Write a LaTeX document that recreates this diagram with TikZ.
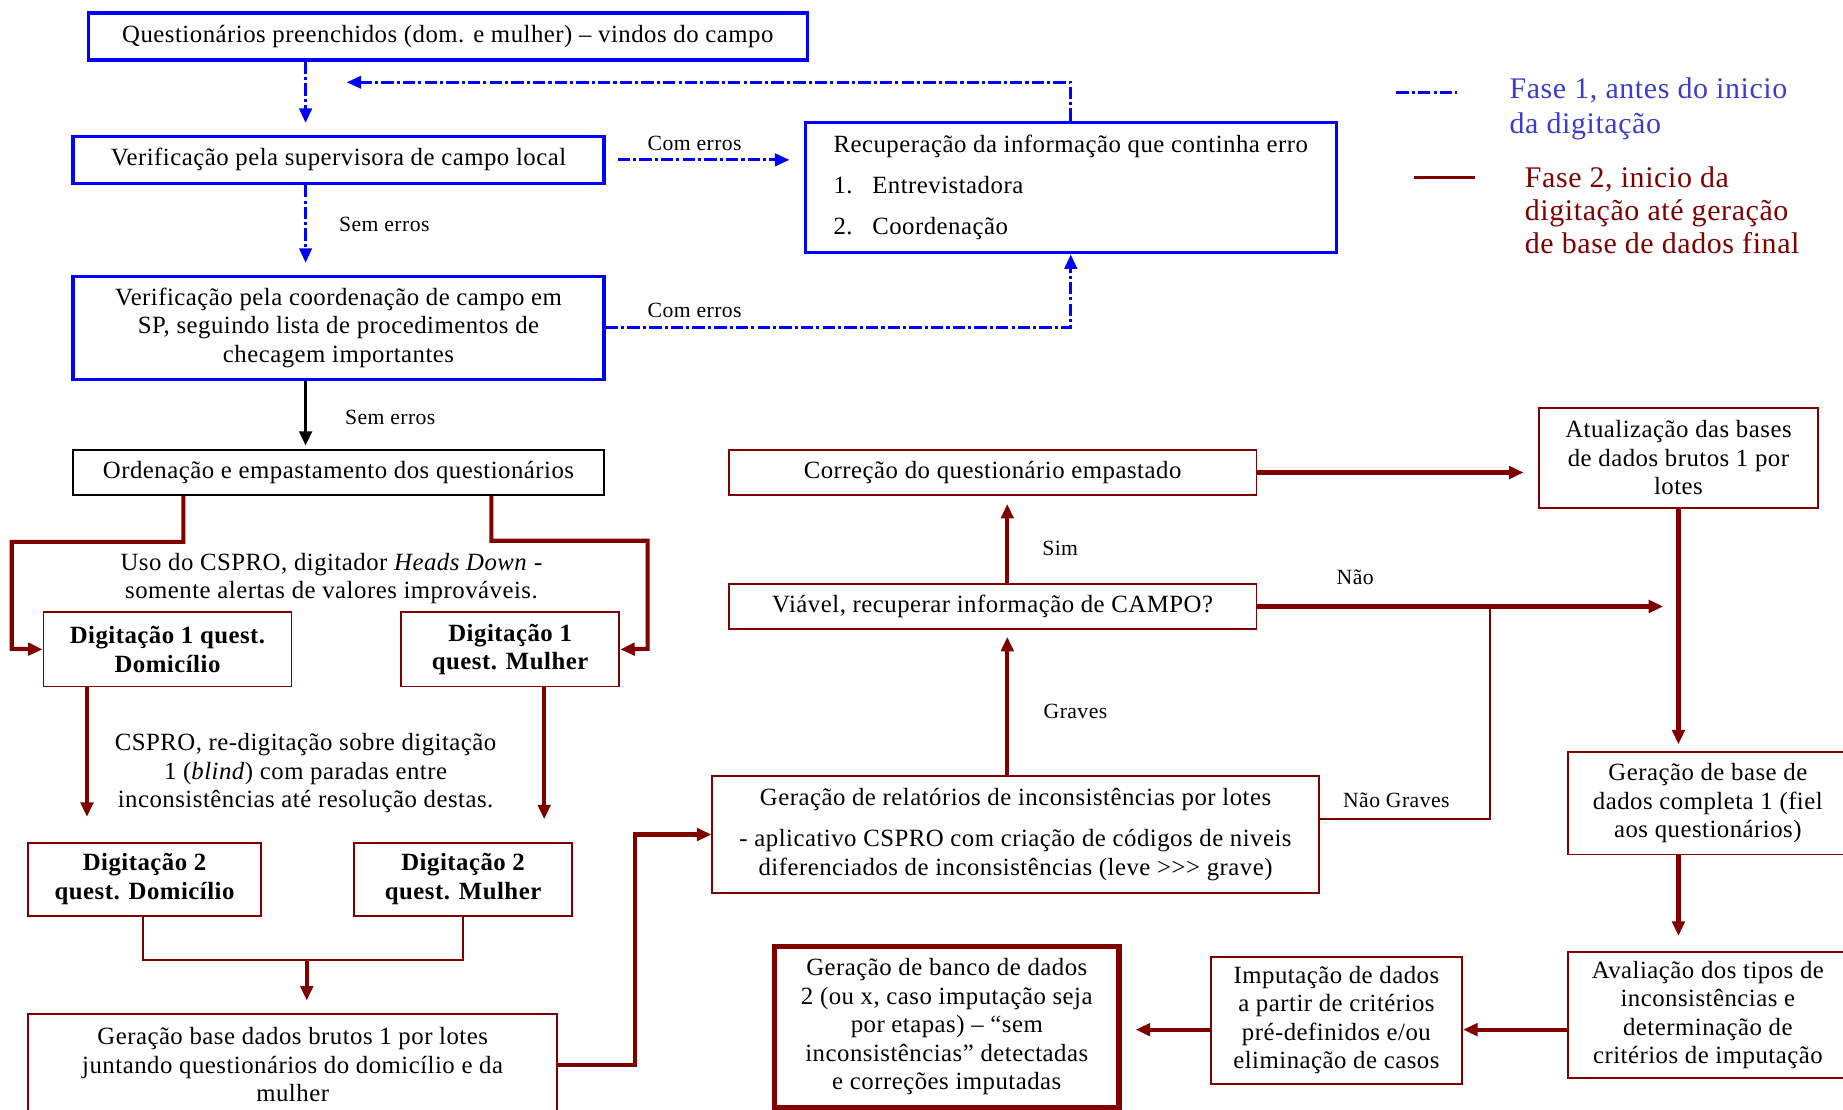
\documentclass[tikz,border=0pt]{standalone}
\usepackage{fontspec}
\setmainfont{Liberation Serif}[LetterSpace=2, Ligatures=TeXOff]
\usetikzlibrary{arrows.meta}
\usetikzlibrary{calc}

\definecolor{faseum}{RGB}{0,0,255}
\definecolor{fasedois}{RGB}{128,0,0}
\definecolor{legazul}{RGB}{60,60,210}

\begin{document}
\begin{tikzpicture}[x=0.02cm,y=-0.02cm,
	txt/.style={font=\fontsize{12}{13.8}\selectfont, align=center, inner sep=0pt},
	bold/.style={font=\fontsize{12}{13.8}\selectfont\bfseries},
	lbl/.style={font=\fontsize{10.5}{12}\selectfont, inner sep=0pt},
	bluebox/.style={txt, draw=faseum, line width=1.6pt},
	redbox/.style={txt, draw=fasedois, line width=0.9pt},
	blackbox/.style={txt, draw=black, line width=0.9pt},
	seta/.style={-{Triangle[length=7pt,width=6pt]}},
	blueline/.style={draw=faseum, line width=1.4pt, dash pattern=on 6pt off 1.5pt on 1.5pt off 1.5pt},
	redline/.style={draw=fasedois, line width=2pt},
	thinred/.style={draw=fasedois, line width=1pt}
	]

	% page size of the reference
	\useasboundingbox (0,0) rectangle (1568,944);

	% fase 1: checking of the questionnaires
	\node[bluebox, minimum width=12.24cm, minimum height=0.8cm] (quest) at (381,31) {Questionários preenchidos (dom. e mulher) – vindos do campo};
	\node[bluebox, minimum width=9.04cm, minimum height=0.8cm] (verloc) at (288,136) {Verificação pela supervisora de campo local};
	\node[bluebox, minimum width=9.04cm, minimum height=2.22cm, align=left] (recup) at (911,159.5)
		{Recuperação da informação que continha erro\\[6pt]\makebox[0.66cm][l]{1.}Entrevistadora\\[6pt]\makebox[0.66cm][l]{2.}Coordenação};
	\node[bluebox, minimum width=9.04cm, minimum height=1.76cm] (verco) at (288,279) {Verificação pela coordenação de campo em\\SP, seguindo lista de procedimentos de\\checagem importantes};
	\node[blackbox, minimum width=9.04cm, minimum height=0.76cm] (orden) at (288,402) {Ordenação e empastamento dos questionários};

	% fase 2: typing
	\node[redbox, bold, minimum width=4.22cm, minimum height=1.26cm] (digumd) at (142.5,552.5) {Digitação 1 quest.\\Domicílio};
	\node[redbox, bold, minimum width=3.72cm, minimum height=1.26cm] (digumm) at (434,552.5) {Digitação 1\\quest. Mulher};
	\node[redbox, bold, minimum width=3.96cm, minimum height=1.24cm] (digdoisd) at (123,748) {Digitação 2\\quest. Domicílio};
	\node[redbox, bold, minimum width=3.72cm, minimum height=1.24cm] (digdoism) at (394,748) {Digitação 2\\quest. Mulher};
	\node[redbox, minimum width=9.0cm, minimum height=1.72cm] (gerbase) at (249,906) {Geração base dados brutos 1 por lotes\\juntando questionários do domicílio e da\\mulher};
	\node[txt] (usocs) at (282,492) {Uso do CSPRO, digitador \textit{Heads Down} -\\somente alertas de valores improváveis.};
	\node[txt] (recsp) at (260,658) {CSPRO, re-digitação sobre digitação\\1 (\textit{blind}) com paradas entre\\inconsistências até resolução destas.};

	% fase 2: inconsistencies
	\node[redbox, minimum width=10.32cm, minimum height=1.98cm] (gerrel) at (864,710) {Geração de relatórios de inconsistências por lotes\\[6pt]- aplicativo CSPRO com criação de códigos de niveis\\diferenciados de inconsistências (leve >>> grave)};
	\node[redbox, minimum width=8.98cm, minimum height=0.76cm] (viavel) at (844.5,516) {Viável, recuperar informação de CAMPO?};
	\node[redbox, minimum width=8.98cm, minimum height=0.76cm] (correc) at (844.5,402) {Correção do questionário empastado};
	\node[redbox, minimum width=4.76cm, minimum height=1.7cm] (atual) at (1428,389.5) {Atualização das bases\\de dados brutos 1 por\\lotes};
	\node[redbox, minimum width=4.76cm, minimum height=1.74cm] (gercomp) at (1453,683.5) {Geração de base de\\dados completa 1 (fiel\\aos questionários)};
	\node[redbox, minimum width=4.76cm, minimum height=2.14cm] (aval) at (1453,863.5) {Avaliação dos tipos de\\inconsistências e\\determinação de\\critérios de imputação};
	\node[redbox, minimum width=4.28cm, minimum height=2.16cm] (imput) at (1137,868) {Imputação de dados\\a partir de critérios\\pré-definidos e/ou\\eliminação de casos};
	\node[redbox, line width=2.6pt, minimum width=5.86cm, minimum height=2.74cm] (gerfin) at (805.5,873.5) {Geração de banco de dados\\2 (ou x, caso imputação seja\\por etapas) – “sem\\inconsistências” detectadas\\e correções imputadas};

	% labels on the connectors
	\node[lbl] (comum) at (591,122) {Com erros};
	\node[lbl] (semum) at (327,191) {Sem erros};
	\node[lbl] (comdois) at (591,264) {Com erros};
	\node[lbl] (semdois) at (332,355) {Sem erros};
	\node[lbl] (sim) at (902,467) {Sim};
	\node[lbl] (nao) at (1153,491) {Não};
	\node[lbl] (graves) at (915,605) {Graves};
	\node[lbl] (naograves) at (1188,681) {Não Graves};

	% legend
	\coordinate (legaa) at (1188,79);
	\coordinate (legab) at (1240,79);
	\draw[blueline] (legaa) -- (legab);
	\node[font=\fontsize{14.5}{16.6}\selectfont, text=legazul, align=left, anchor=west, inner sep=0pt] (fasea) at (1284,92.5) {Fase 1, antes do inicio\\da digitação};
	\coordinate (legba) at (1203,151);
	\coordinate (legbb) at (1255,151);
	\draw[thinred] (legba) -- (legbb);
	\node[font=\fontsize{14.5}{16}\selectfont, text=fasedois, align=left, anchor=west, inner sep=0pt] (faseb) at (1297,179) {Fase 2, inicio da\\digitação até geração\\de base de dados final};

	% fase 1 connectors
	\coordinate (colA) at (260,0);
	\coordinate (volta) at (295,70);
	\draw[blueline, seta, shorten >=0.2cm] (quest.south -| colA) -- (verloc.north -| colA);
	\draw[blueline, seta, shorten >=0.2cm] (verloc.south -| colA) -- (verco.north -| colA);
	\draw[black, line width=1.8pt, seta, shorten >=0.06cm] (verco.south -| colA) -- (orden.north -| colA);
	\draw[blueline, seta] (recup.north) |- (volta);
	\draw[blueline, seta, shorten <=0.2cm, shorten >=0.24cm] (verloc.east) -- (verloc.east -| recup.west);
	\draw[blueline, seta] (verco.east) -| (recup.south);

	% fase 2 connectors, typing
	\coordinate (odl) at (156,461);
	\coordinate (esq) at (10,552);
	\coordinate (odr) at (418,460);
	\coordinate (dirc) at (551,552);
	\draw[redline, seta] (orden.south -| odl) -- (odl) -| (esq) -- (digumd.west);
	\draw[redline, seta] (orden.south -| odr) -- (odr) -| (dirc) -- (digumm.east);
	\coordinate (fimd) at (74,695);
	\coordinate (fimm) at (463,697);
	\draw[redline, seta] (digumd.south -| fimd) -- (fimd);
	\draw[redline, seta] (digumm.south -| fimm) -- (fimm);
	\coordinate (jd) at (122,817);
	\coordinate (jm) at (394,817);
	\coordinate (junta) at (261,817);
	\draw[thinred] (digdoisd.south -| jd) -- (jd) -- (jm) -- (digdoism.south);
	\draw[redline, seta, shorten >=0.22cm] (junta) -- (gerbase.north -| junta);
	\coordinate (sobe) at (540,906);
	\draw[redline, seta] (gerbase.east) -- (sobe) |- (gerrel.west);

	% fase 2 connectors, inconsistencies
	\coordinate (eixo) at (857,0);
	\draw[redline, seta, shorten >=0.12cm] (gerrel.north -| eixo) -- (viavel.south -| eixo);
	\draw[redline, seta, shorten >=0.14cm] (viavel.north -| eixo) -- (correc.south -| eixo);
	\draw[redline, seta, shorten >=0.24cm] (correc.east) -- (correc.east -| atual.west);
	\coordinate (naofim) at (1415,516);
	\draw[redline, seta] (viavel.east) -- (naofim);
	\coordinate (ng) at (1268,697);
	\draw[thinred] (gerrel.east |- ng) -- (ng) -- (ng |- viavel.east);
	\draw[redline, seta, shorten >=0.12cm] (atual.south) -- (atual.south |- gercomp.north);
	\draw[redline, seta, shorten >=0.26cm] (gercomp.south -| atual.south) -- (aval.north -| atual.south);
	\coordinate (hav) at (0,876);
	\draw[redline, seta] (aval.west |- hav) -- (imput.east |- hav);
	\draw[redline, seta, shorten >=0.24cm] (imput.west |- hav) -- (gerfin.east |- hav);

\end{tikzpicture}
\end{document}
